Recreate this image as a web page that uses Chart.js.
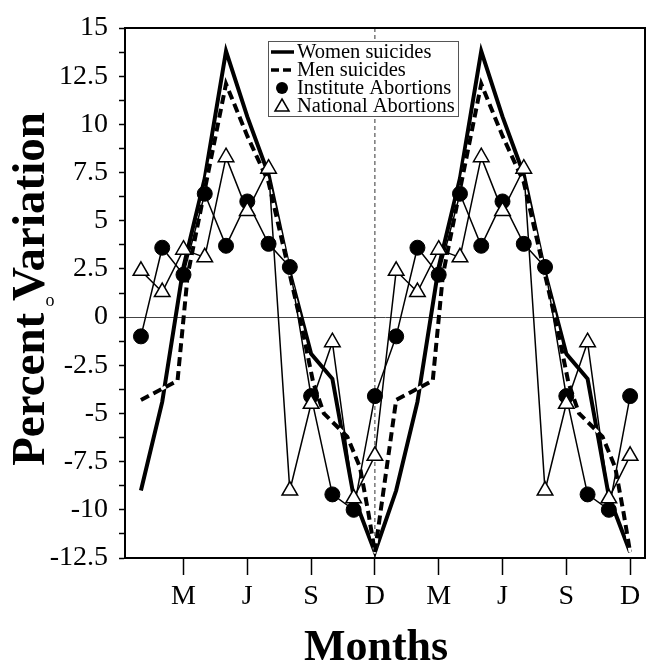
<!DOCTYPE html>
<html><head><meta charset="utf-8">
<script src="https://cdn.jsdelivr.net/npm/chart.js@4.4.1/dist/chart.umd.min.js"></script>
<style>html,body{margin:0;padding:0;background:#fff;} #wrap{width:647px;height:665px;position:relative;}</style>
</head><body><div id="wrap"><canvas id="c" width="647" height="665"></canvas></div>
<script>
// ---- data ----
const monthsOfYear = [1,2,3,4,5,6,7,8,9,10,11,12];
const yearsShown = 2;   // the figure repeats the same year twice
const instituteAbortions = [-1.0, 3.6, 2.2, 6.4, 3.7, 6.0, 3.8, 2.6, -4.1, -9.2, -10.0, -4.1];
const nationalAbortions  = [2.4, 1.3, 3.5, 3.1, 8.3, 5.5, 7.7, -9.0, -4.5, -1.3, -9.4, -7.2];
const womenMonths   = [1, 2, 3, 4, 5, 6, 7, 8, 9, 10, 11, 12];
const womenSuicides = [-9.0, -4.4, 2.6, 7.2, 13.8, 10.4, 7.4, 2.3, -1.9, -3.2, -9.3, -12.2];
const menMonths   = [1, 2.72, 3.2, 4, 5, 6, 7, 8, 8.6, 9.1, 9.6, 10.7, 11.3, 11.7, 12];
const menSuicides = [-4.3, -3.3, 2.2, 6.6, 12.1, 9.4, 7.0, 2.2, -0.7, -3.4, -5.0, -6.2, -7.8, -10.2, -12.2];
const xTickMonths = [3, 6, 9, 12, 15, 18, 21, 24];
const xTickLabels = ['M', 'J', 'S', 'D', 'M', 'J', 'S', 'D'];
const yTickValues = [-12.5, -11.25, -10, -8.75, -7.5, -6.25, -5, -3.75, -2.5, -1.25, 0, 1.25, 2.5, 3.75, 5, 6.25, 7.5, 8.75, 10, 11.25, 12.5, 13.75, 15];
const yTickLabels = ['-12.5', '', '-10', '', '-7.5', '', '-5', '', '-2.5', '', '0', '', '2.5', '', '5', '', '7.5', '', '10', '', '12.5', '', '15'];
const seriesNames = ['Women suicides', 'Men suicides', 'Institute Abortions', 'National Abortions'];
const xTitle = 'Months';
const yTitle = 'Percent Variation';
const yearDivider = 12;

function repeatYears(xs, ys) {
  const pts = [];
  for (let yr = 0; yr < yearsShown; yr++) {
    xs.forEach((m, i) => pts.push({ x: m + 12 * yr, y: ys[i] }));
  }
  return pts;
}

const SERIF = "'Liberation Serif', 'Times New Roman', serif";

const decor = {
  id: 'decor',
  beforeDatasetsDraw(chart) {
    const { ctx, chartArea: a, scales } = chart;
    ctx.save();
    const xd = scales.x.getPixelForValue(yearDivider);
    ctx.strokeStyle = '#333'; ctx.lineWidth = 1; ctx.setLineDash([4, 3]);
    ctx.beginPath(); ctx.moveTo(xd, a.top); ctx.lineTo(xd, a.bottom); ctx.stroke();
    ctx.setLineDash([]);
    ctx.strokeStyle = '#000'; ctx.lineWidth = 2;
    ctx.beginPath(); ctx.moveTo(a.left, a.top); ctx.lineTo(a.right, a.top); ctx.lineTo(a.right, a.bottom); ctx.stroke();
    ctx.restore();
  },
  beforeDatasetDraw(chart, args) {
    // the dashed men's line has white (opaque) gaps in the original
    if (args.index !== 1) return;
    const pts = args.meta.data;
    const ctx = chart.ctx;
    ctx.save();
    ctx.strokeStyle = '#fff'; ctx.lineWidth = 3; ctx.lineJoin = 'round';
    ctx.beginPath();
    pts.forEach((p, i) => (i ? ctx.lineTo(p.x, p.y) : ctx.moveTo(p.x, p.y)));
    ctx.stroke();
    ctx.restore();
  },
  afterDraw(chart) {
    const { ctx } = chart;
    ctx.save();
    ctx.fillStyle = '#000';
    ctx.font = 'bold 44px ' + SERIF; ctx.textAlign = 'center'; ctx.textBaseline = 'alphabetic';
    ctx.fillText(xTitle, 376, 660);
    ctx.save();
    ctx.translate(44, 289); ctx.rotate(-Math.PI / 2);
    ctx.font = 'bold 47px ' + SERIF;
    ctx.fillText(yTitle, 0, 0);
    ctx.restore();
    ctx.font = '18px ' + SERIF;
    ctx.fillText('o', 50, 306);
    const bx = 268, by = 41, bw = 190, bh = 75;
    ctx.fillStyle = '#fff'; ctx.fillRect(bx, by, bw, bh);
    ctx.strokeStyle = '#555'; ctx.lineWidth = 1; ctx.strokeRect(bx + 0.5, by + 0.5, bw, bh);
    const rows = [52, 70, 88, 106];
    ctx.strokeStyle = '#000'; ctx.fillStyle = '#000';
    ctx.lineWidth = 3.5; ctx.beginPath(); ctx.moveTo(271, rows[0]); ctx.lineTo(294, rows[0]); ctx.stroke();
    ctx.setLineDash([8, 4]); ctx.beginPath(); ctx.moveTo(271, rows[1]); ctx.lineTo(294, rows[1]); ctx.stroke(); ctx.setLineDash([]);
    ctx.beginPath(); ctx.arc(282, rows[2], 6, 0, Math.PI * 2); ctx.fill();
    ctx.lineWidth = 1.5; ctx.fillStyle = '#fff';
    ctx.beginPath(); ctx.moveTo(282, rows[3] - 7); ctx.lineTo(289, rows[3] + 5); ctx.lineTo(275, rows[3] + 5); ctx.closePath(); ctx.fill(); ctx.stroke();
    ctx.fillStyle = '#000';
    ctx.font = '20.5px ' + SERIF; ctx.textBaseline = 'middle'; ctx.textAlign = 'left';
    seriesNames.forEach((n, i) => ctx.fillText(n, 297, rows[i] + 1));
    ctx.restore();
  }
};

new Chart(document.getElementById('c'), {
  type: 'line',
  data: {
    datasets: [
      { label: seriesNames[0], data: repeatYears(womenMonths, womenSuicides), borderColor: '#000', borderWidth: 4, pointRadius: 0, tension: 0, order: 4 },
      { label: seriesNames[1], data: repeatYears(menMonths, menSuicides), borderColor: '#000', borderWidth: 4, borderDash: [9, 5], pointRadius: 0, tension: 0, order: 3 },
      { label: seriesNames[2], data: repeatYears(monthsOfYear, instituteAbortions), borderColor: '#000', borderWidth: 1.5, pointStyle: 'circle', pointRadius: 7.5, pointBackgroundColor: '#000', pointBorderColor: '#000', pointBorderWidth: 1, tension: 0, order: 2 },
      { label: seriesNames[3], data: repeatYears(monthsOfYear, nationalAbortions), borderColor: '#000', borderWidth: 1.5, pointStyle: 'triangle', pointRadius: 9, pointBackgroundColor: '#fff', pointBorderColor: '#000', pointBorderWidth: 1.5, tension: 0, order: 1 }
    ]
  },
  options: {
    responsive: false, animation: false, devicePixelRatio: 1,
    layout: { autoPadding: false, padding: { left: 50, right: 2, top: 28, bottom: 54 } },
    plugins: { legend: { display: false }, tooltip: { enabled: false } },
    scales: {
      x: {
        type: 'linear', min: 0.25, max: 24.7,
        afterBuildTicks: (axis) => { axis.ticks = xTickMonths.map(v => ({ value: v })); },
        afterFit: (s) => { s.height = 53; s.paddingLeft = 0; s.paddingRight = 0; },
        ticks: { callback: (v, i) => xTickLabels[i], font: { family: SERIF, size: 28, lineHeight: 1.0 }, color: '#000', padding: 8, autoSkip: false, maxRotation: 0 },
        grid: { drawOnChartArea: false, drawTicks: true, tickLength: 17, tickColor: '#000', tickWidth: 1.5 },
        border: { color: '#000', width: 2 }
      },
      y: {
        type: 'linear', min: -12.5, max: 15,
        afterBuildTicks: (axis) => { axis.ticks = yTickValues.map(v => ({ value: v })); },
        afterFit: (s) => { s.width = 75; },
        ticks: { callback: (v, i) => yTickLabels[i], font: { family: SERIF, size: 28 }, color: '#000', padding: 11, autoSkip: false },
        grid: { drawOnChartArea: true, color: (c) => (c.tick && c.tick.value === 0 ? '#444' : 'rgba(0,0,0,0)'), lineWidth: 1, tickColor: '#000', tickLength: 6, tickWidth: 1.5 },
        border: { color: '#000', width: 2 }
      }
    }
  },
  plugins: [decor]
});
</script>
</body></html>
